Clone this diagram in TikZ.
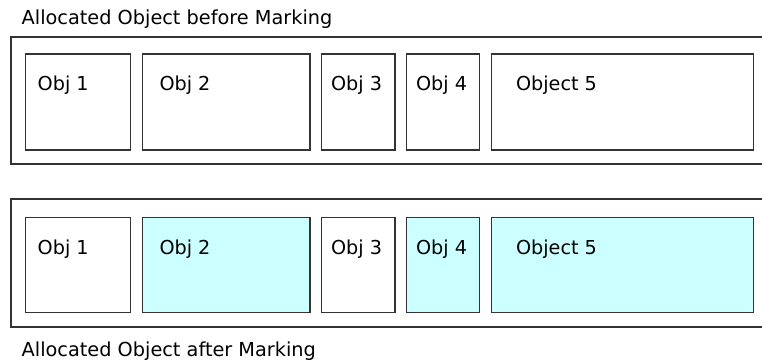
\documentclass[tikz,border=0pt]{standalone}
\usepackage{fontspec}
\setmainfont{DejaVu Sans}
\definecolor{marked}{HTML}{CCFFFF}
\definecolor{edge}{HTML}{333333}
\begin{document}
\begin{tikzpicture}[x=1pt,y=-1pt,
  objbox/.style={draw=edge,line width=1.4pt},
  heapbox/.style={draw=edge,line width=1.6pt},
  lbl/.style={font=\fontsize{19.2}{21}\selectfont,anchor=base west,inner sep=0pt},
  title/.style={font=\fontsize{19.3}{21}\selectfont,anchor=base west,inner sep=0pt}]
\useasboundingbox (0,0) rectangle (762,361);
% titles
\node[title] (t1) at (21.5,25) {Allocated Object before Marking};
\node[title] (t2) at (21.5,356.5) {Allocated Object after Marking};
% top heap
\draw[heapbox] (770,37) -- (11,37) -- (11,164) -- (770,164);
\draw[objbox] (25.7,54) rectangle (130.7,150);
\draw[objbox] (142.7,54) rectangle (310,150);
\draw[objbox] (321.7,54) rectangle (395,150);
\draw[objbox] (406.7,54) rectangle (479.5,150);
\draw[objbox] (491.5,54) rectangle (753.3,150);
\node[lbl] (a1) at (37.5,90.7) {Obj 1};
\node[lbl] (a2) at (159.3,90.7) {Obj 2};
\node[lbl] (a3) at (330.9,90.7) {Obj 3};
\node[lbl] (a4) at (415.9,90.7) {Obj 4};
\node[lbl] (a5) at (515.9,90.7) {Object 5};
% bottom heap
\draw[heapbox] (770,199) -- (11,199) -- (11,326.7) -- (770,326.7);
\draw[objbox] (25.7,217.3) rectangle (130.7,312.7);
\draw[objbox,fill=marked] (142.7,217.3) rectangle (310,312.7);
\draw[objbox] (321.7,217.3) rectangle (395,312.7);
\draw[objbox,fill=marked] (406.7,217.3) rectangle (479.5,312.7);
\draw[objbox,fill=marked] (491.5,217.3) rectangle (753.3,312.7);
\node[lbl] (b1) at (37.5,254) {Obj 1};
\node[lbl] (b2) at (159.3,254) {Obj 2};
\node[lbl] (b3) at (330.9,254) {Obj 3};
\node[lbl] (b4) at (415.9,254) {Obj 4};
\node[lbl] (b5) at (515.9,254) {Object 5};
\end{tikzpicture}
\end{document}
